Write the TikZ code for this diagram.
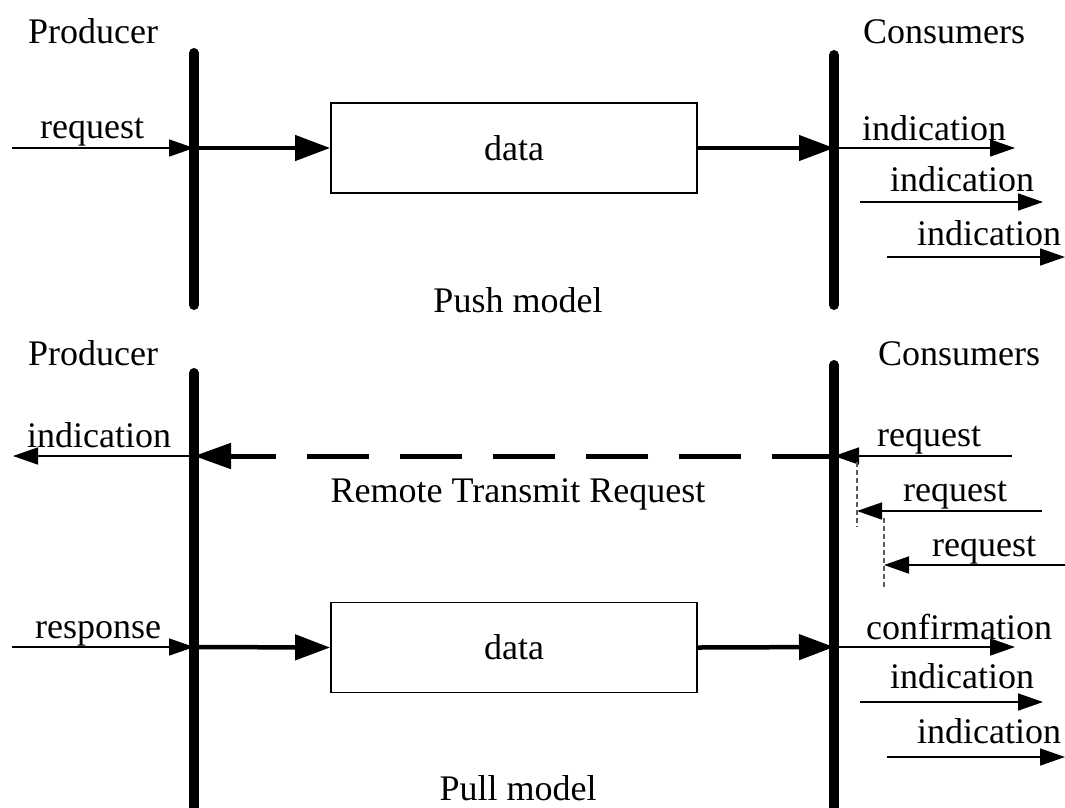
\documentclass[tikz,border=0pt]{standalone}
\usepackage{fontspec}
\setmainfont{Liberation Serif}
\usetikzlibrary{arrows.meta}
\tikzset{
  lbl/.style={inner sep=0pt, font=\fontsize{36}{43}\selectfont},
  bar/.style={line width=10pt, line cap=round},
  thinarrow/.style={line width=1.6pt, -{Triangle[length=25pt,width=17pt]}},
  thickarrow/.style={line width=4.5pt, -{Triangle[length=35pt,width=25pt]}},
  rtrarrow/.style={line width=5pt, dash pattern=on 62pt off 31pt, -{Triangle[length=37pt,width=25pt]}},
  databox/.style={draw, line width=1.8pt, minimum width=366pt, minimum height=90pt, inner sep=0pt, font=\fontsize{36}{43}\selectfont},
  linkdash/.style={line width=1.4pt, draw=black!65, dash pattern=on 5pt off 3pt}
}
\begin{document}
\begin{tikzpicture}[x=1pt,y=-1pt]
\useasboundingbox (0,0) rectangle (1065,807);
% ---------------- Push model ----------------
\coordinate (PT1) at (194,53);
\coordinate (PB1) at (194,305);
\coordinate (CT1) at (834,55);
\coordinate (CB1) at (834,305);
\draw[bar] (PT1) -- (PB1);
\draw[bar] (CT1) -- (CB1);
\node[lbl, anchor=base west] (prod1) at (28,43) {Producer};
\node[lbl, anchor=base west] (cons1) at (863,43) {Consumers};
\node[databox] (box1) at (514,148) {data};
\coordinate (P1) at (194,148);
\coordinate (C1) at (834,148);
\coordinate (reqin) at (12,148);
\draw[thinarrow] (reqin) -- (P1);
\node[lbl, anchor=base west] (reqlbl) at (40,138) {request};
\draw[thickarrow] (P1) -- (box1.west);
\draw[thickarrow] (box1.east) -- (C1);
\coordinate (ia1) at (1015,148);
\coordinate (ib0) at (860,202);
\coordinate (ib1) at (1043,202);
\coordinate (ic0) at (887,257);
\coordinate (ic1) at (1065,257);
\draw[thinarrow] (C1) -- (ia1);
\draw[thinarrow] (ib0) -- (ib1);
\draw[thinarrow] (ic0) -- (ic1);
\node[lbl, anchor=base west] (ind1) at (862,140) {indication};
\node[lbl, anchor=base west] (ind2) at (890,191) {indication};
\node[lbl, anchor=base west] (ind3) at (917,245) {indication};
\node[lbl, anchor=base] (push) at (518,312) {Push model};
% ---------------- Pull model ----------------
\coordinate (PT2) at (194,373);
\coordinate (PB2) at (194,812);
\coordinate (CT2) at (834,365);
\coordinate (CB2) at (834,812);
\draw[bar] (PT2) -- (PB2);
\draw[bar] (CT2) -- (CB2);
\node[lbl, anchor=base west] (prod2) at (28,365) {Producer};
\node[lbl, anchor=base west] (cons2) at (878,365) {Consumers};
% remote transmit request
\coordinate (P2) at (194,456);
\coordinate (C2) at (834,456);
\coordinate (indout) at (13,456);
\draw[rtrarrow] (C2) -- (P2);
\draw[thinarrow] (P2) -- (indout);
\node[lbl, anchor=base west] (indl) at (27,447) {indication};
\node[lbl, anchor=base] (rtr) at (518,502) {Remote Transmit Request};
% incoming requests
\coordinate (ra0) at (1012,456);
\coordinate (rb0) at (1042,511);
\coordinate (rb1) at (857,511);
\coordinate (rc0) at (1065,565);
\coordinate (rc1) at (884,565);
\draw[thinarrow] (ra0) -- (C2);
\draw[thinarrow] (rb0) -- (rb1);
\draw[thinarrow] (rc0) -- (rc1);
\coordinate (da0) at (857,462);
\coordinate (da1) at (857,527);
\coordinate (db0) at (884,518);
\coordinate (db1) at (884,588);
\draw[linkdash] (da0) -- (da1);
\draw[linkdash] (db0) -- (db1);
\node[lbl, anchor=base west] (rq1) at (877,446) {request};
\node[lbl, anchor=base west] (rq2) at (903,501) {request};
\node[lbl, anchor=base west] (rq3) at (932,556) {request};
% data path
\node[databox] (box2) at (514,647.5) {data};
\coordinate (P3) at (194,647);
\coordinate (C3) at (834,647);
\coordinate (respin) at (12,647);
\draw[thinarrow] (respin) -- (P3);
\node[lbl, anchor=base west] (resp) at (35,638) {response};
\draw[thickarrow] (P3) -- (box2.west);
\draw[thickarrow] (box2.east) -- (C3);
\coordinate (ca1) at (1015,647);
\coordinate (cb0) at (860,702);
\coordinate (cb1) at (1043,702);
\coordinate (cc0) at (887,757);
\coordinate (cc1) at (1065,757);
\draw[thinarrow] (C3) -- (ca1);
\draw[thinarrow] (cb0) -- (cb1);
\draw[thinarrow] (cc0) -- (cc1);
\node[lbl, anchor=base west] (conf) at (866,639) {confirmation};
\node[lbl, anchor=base west] (ind4) at (890,688) {indication};
\node[lbl, anchor=base west] (ind5) at (917,743) {indication};
\node[lbl, anchor=base] (pull) at (518,800) {Pull model};
\end{tikzpicture}
\end{document}
